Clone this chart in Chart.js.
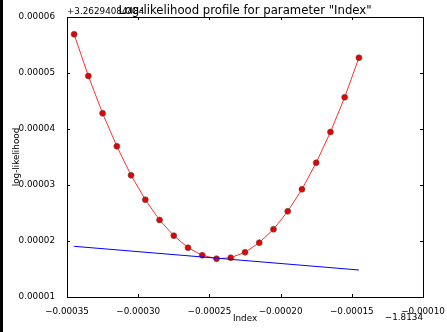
<!DOCTYPE html>
<html>
<head>
<meta charset="utf-8"/>
<style>
  body { margin: 0; background: #fff; }
  #wrap { position: relative; width: 447px; height: 332px; }
  #bar { position: absolute; left: 0; top: 0; width: 3px; height: 332px; background: #000; }
</style>
</head>
<body>
<div id="wrap">
  <canvas id="myChart" width="447" height="332"></canvas>
  <div id="bar"></div>
</div>

<script src="https://cdn.jsdelivr.net/npm/chart.js"></script>
<script>
  // values of the profile (x shown without the -1.8134 offset, y without +3.26294084484)
  var indexValues = [-0.000345, -0.000335, -0.000325, -0.000315, -0.000305, -0.000295, -0.000285,
                     -0.000275, -0.000265, -0.000255, -0.000245, -0.000235, -0.000225, -0.000215,
                     -0.000205, -0.000195, -0.000185, -0.000175, -0.000165, -0.000155, -0.000145];
  var logLik = [5.691e-5, 4.946e-5, 4.280e-5, 3.691e-5, 3.173e-5, 2.738e-5, 2.375e-5,
                2.095e-5, 1.880e-5, 1.745e-5, 1.684e-5, 1.702e-5, 1.798e-5, 1.970e-5,
                2.209e-5, 2.530e-5, 2.923e-5, 3.398e-5, 3.946e-5, 4.566e-5, 5.273e-5];
  var tangentX = [-0.000345, -0.000145];
  var tangentY = [1.905e-5, 1.482e-5];
  var xTicks = [-0.00035, -0.00030, -0.00025, -0.00020, -0.00015, -0.00010];
  var yTicks = [0.00001, 0.00002, 0.00003, 0.00004, 0.00005, 0.00006];
  var xOffsetText = "\u22121.8134";
  var yOffsetText = "+3.26294084484";
  var titleText = 'Log-likelihood profile for parameter "Index"';

  var font = "'DejaVu Sans', sans-serif";
  var tickSize = 8.8;

  function pts(xs, ys) {
    return xs.map(function (x, i) { return { x: x, y: ys[i] }; });
  }

  // frame, inward ticks, title and offset texts, matplotlib style
  var mplFrame = {
    id: "mplFrame",
    afterDraw: function (chart) {
      var c = chart.ctx, a = chart.chartArea;
      var xs = chart.scales.x, ys = chart.scales.y;
      c.save();
      c.strokeStyle = "#000";
      c.lineWidth = 1;
      c.strokeRect(Math.round(a.left) + 0.5, Math.round(a.top) + 0.5,
                   Math.round(a.right - a.left), Math.round(a.bottom - a.top));
      c.beginPath();
      xTicks.forEach(function (v) {
        var px = Math.round(xs.getPixelForValue(v)) + 0.5;
        c.moveTo(px, a.top); c.lineTo(px, a.top + 3);
        c.moveTo(px, a.bottom); c.lineTo(px, a.bottom - 3);
      });
      yTicks.forEach(function (v) {
        var py = Math.round(ys.getPixelForValue(v)) + 0.5;
        c.moveTo(a.left, py); c.lineTo(a.left + 3, py);
        c.moveTo(a.right, py); c.lineTo(a.right - 3, py);
      });
      c.stroke();

      c.fillStyle = "#000";
      c.textBaseline = "alphabetic";
      c.font = tickSize + "px " + font;
      c.textAlign = "left";
      c.fillText(yOffsetText, a.left, a.top - 3);
      c.textAlign = "right";
      c.fillText(xOffsetText, a.right, 320);
      c.font = "11.7px " + font;
      c.textAlign = "center";
      c.fillText(titleText, (a.left + a.right) / 2, a.top - 3);
      c.restore();
    }
  };

  var ctx = document.getElementById("myChart");
  var myChart = new Chart(ctx, {
    type: "scatter",
    data: {
      datasets: [
        {
          label: "tangent",
          data: pts(tangentX, tangentY),
          showLine: true,
          borderColor: "#0000ff",
          borderWidth: 1,
          pointRadius: 0,
        },
        {
          label: "profile",
          data: pts(indexValues, logLik),
          showLine: true,
          borderColor: "#ff3030",
          borderWidth: 1,
          pointRadius: 3,
          pointBackgroundColor: "#e60000",
          pointBorderColor: "#555",
          pointBorderWidth: 0.6,
        },
      ],
    },
    options: {
      responsive: false,
      animation: false,
      layout: { padding: { top: 17, right: 24, left: 0, bottom: 0 } },
      plugins: {
        legend: { display: false },
        tooltip: { enabled: false },
        title: { display: false },
      },
      scales: {
        x: {
          type: "linear",
          min: -0.00035,
          max: -0.0001,
          grid: { display: false },
          border: { display: false },
          afterFit: function (s) { s.height = 35; },
          afterBuildTicks: function (s) { s.ticks = xTicks.map(function (v) { return { value: v }; }); },
          ticks: {
            padding: 1,
            color: "#000",
            font: { family: font, size: tickSize },
            maxRotation: 0,
            callback: function (v) { return v.toFixed(5).replace("-", "\u2212"); },
          },
          title: {
            display: true,
            text: "Index",
            color: "#000",
            font: { family: font, size: tickSize },
            padding: { top: 0, bottom: 8 },
          },
        },
        y: {
          type: "linear",
          min: 0.00001,
          max: 0.00006,
          grid: { display: false },
          border: { display: false },
          afterFit: function (s) { s.width = 67; },
          afterBuildTicks: function (s) { s.ticks = yTicks.map(function (v) { return { value: v }; }); },
          ticks: {
            padding: 4,
            color: "#000",
            font: { family: font, size: tickSize },
            callback: function (v) { return v.toFixed(5); },
          },
          title: {
            display: true,
            text: "log-likelihood",
            color: "#000",
            font: { family: font, size: tickSize },
            padding: { top: 11, bottom: 0 },
          },
        },
      },
    },
    plugins: [mplFrame],
  });
</script>
</body>
</html>
